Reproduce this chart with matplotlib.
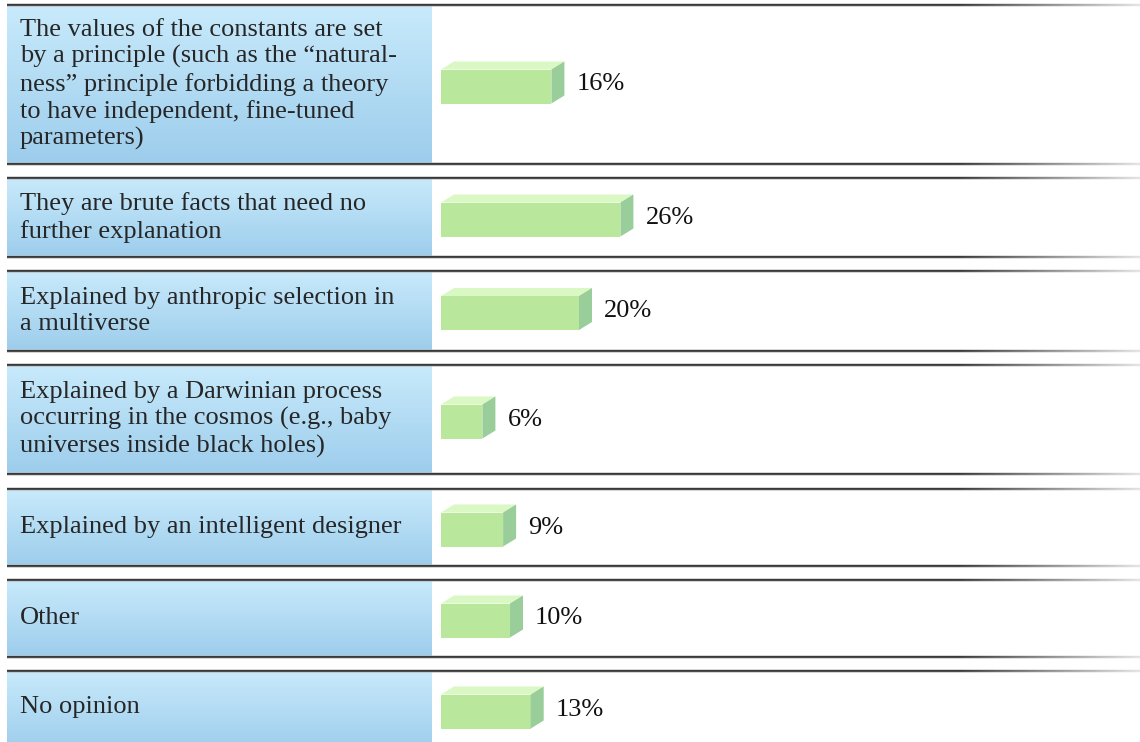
import numpy as np
import matplotlib
matplotlib.use("Agg")
import matplotlib.pyplot as plt
from matplotlib.patches import Polygon, Rectangle

# ---- data ----
categories = [
    "The values of the constants are set\nby a principle (such as the \u201cnatural-\nness\u201d principle forbidding a theory\nto have independent, fine-tuned\nparameters)",
    "They are brute facts that need no\nfurther explanation",
    "Explained by anthropic selection in\na multiverse",
    "Explained by a Darwinian process\noccurring in the cosmos (e.g., baby\nuniverses inside black holes)",
    "Explained by an intelligent designer",
    "Other",
    "No opinion",
]
values = [16, 26, 20, 6, 9, 10, 13]
value_labels = [f"{v}%" for v in values]

# ---- layout (pixels) ----
W, H = 1140, 742
row_tops = [5, 178, 271, 365, 489, 580, 671]
row_bots = [164, 257, 351, 474, 566, 657, 750]
cell_x0, cell_x1 = 7, 432
bar_x0 = 441
px_per_pct = 6.9
bar_h = 34
dx, dy = 13, 8

fig = plt.figure(figsize=(W / 100, H / 100), dpi=100)
ax = fig.add_axes([0, 0, 1, 1])
ax.set_xlim(0, W)
ax.set_ylim(H, 0)
ax.axis("off")

serif = ["Liberation Serif", "DejaVu Serif"]

top_col = np.array([200, 234, 251]) / 255
bot_col = np.array([157, 205, 236]) / 255
grad = np.linspace(0, 1, 64)[:, None, None]
cell_img = top_col[None, None, :] * (1 - grad) + bot_col[None, None, :] * grad

def hline(y):
    n = 300
    xs = np.linspace(cell_x0, W, n)
    fade = np.clip((xs - 960) / (W - 960), 0, 1)
    alpha = 1 - 0.85 * fade
    prof = [(0.72, 0.55), (0.22, 1.0), (0.30, 1.0), (0.70, 0.55)]
    arr = np.zeros((len(prof), n, 4))
    for i, (g, a) in enumerate(prof):
        arr[i, :, :3] = g
        arr[i, :, 3] = a * alpha
    ax.imshow(arr, extent=[cell_x0, W, y + 2, y - 2], aspect="auto",
              interpolation="nearest", zorder=5)

front_col = "#b9e79b"
top_face = "#daf8c3"
side_col = "#99cd99"

for i, (cat, v, lab, t, b) in enumerate(zip(categories, values, value_labels, row_tops, row_bots)):
    ax.imshow(cell_img, extent=[cell_x0, cell_x1, b, t], aspect="auto",
              interpolation="bilinear", zorder=1)
    hline(t)
    hline(b)
    c = (t + b) / 2 if i < len(categories) - 1 else (t + H) / 2
    ax.text(20, c, cat, fontsize=19, family=serif, color="#262626",
            va="center", ha="left", linespacing=1.24, zorder=6)
    fc = c + 2 if i < len(categories) - 1 else c + 5
    x1 = bar_x0 + v * px_per_pct
    yt, yb = fc - bar_h / 2, fc + bar_h / 2
    ax.add_patch(Rectangle((bar_x0, yt), x1 - bar_x0, bar_h, facecolor=front_col,
                           edgecolor="none", zorder=3))
    ax.add_patch(Polygon([(bar_x0, yt), (x1, yt), (x1 + dx, yt - dy), (bar_x0 + dx, yt - dy)],
                         closed=True, facecolor=top_face, edgecolor="none", zorder=3))
    ax.add_patch(Polygon([(x1, yt), (x1 + dx, yt - dy), (x1 + dx, yb - dy), (x1, yb)],
                         closed=True, facecolor=side_col, edgecolor="none", zorder=3))
    ax.text(x1 + dx + 12, fc + 4, lab, fontsize=19, family=serif, color="#111111",
            va="baseline", ha="left", zorder=6)

fig.savefig("out.png", dpi=100)
